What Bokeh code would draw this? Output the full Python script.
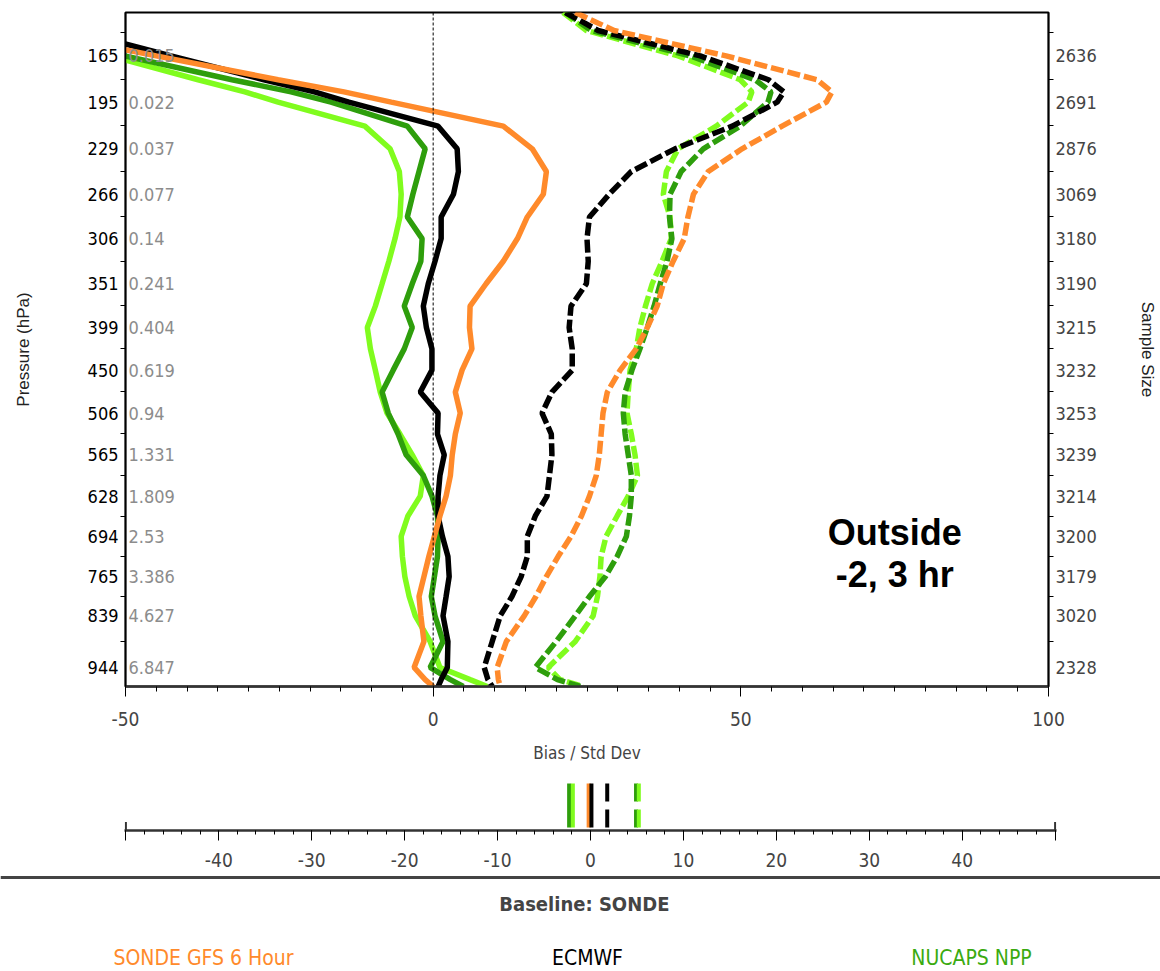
import numpy as np
from bokeh.plotting import figure
from bokeh.models import Range1d, LinearAxis, FixedTicker, Span, Label
from bokeh.layouts import column
from bokeh.embed import file_html
from bokeh.resources import INLINE
from bokeh.core.properties import value

# ---------------- data ----------------
pressure_hpa = [140, 150, 165, 180, 188, 195, 212, 229, 247, 266, 286, 306, 328, 351, 375,
                399, 424, 450, 478, 506, 535, 565, 596, 628, 660, 694, 729, 765, 802, 839,
                890, 944, 970, 985]

# bias (solid)
gfs_bias = [-81, -66, -45.0, -25.2, -14.5, -6.8, 11.4, 16.1, 18.4, 17.9, 15.3, 13.7, 11.4,
            8.6, 6.0, 5.9, 6.3, 4.7, 3.6, 4.4, 3.6, 3.1, 2.8, 2.1, 1.1, 0.2, -0.7, -1.5,
            -2.3, -2.0, -1.5, -3.1, -1.3, 0.0]
ecmwf_bias = [-69.7, -58.3, -42.6, -27.5, -19.3, -13.7, 0.8, 3.9, 4.1, 3.3, 1.3, 1.3, 0.3,
              -0.8, -1.6, -1.1, -0.2, -0.2, -2.1, 0.8, 0.7, 1.8, 1.1, 0.8, 0.8, 1.5, 2.4,
              2.6, 2.1, 1.6, 2.4, 2.3, 1.3, 0.8]
nucaps_bias = [-81.6, -68.4, -50.1, -32.7, -23.1, -16.6, -4.2, -1.3, -2.3, -3.3, -4.2, -1.8,
               -2.0, -3.4, -4.7, -3.4, -4.7, -6.5, -8.3, -7.3, -5.7, -4.4, -1.6, -0.2, 0.7,
               0.8, 0.7, 0.2, -0.3, 0.3, 1.6, -0.5, 2.8, 4.9]
nucaps2_bias = [-78.2, -67.4, -52.5, -38.2, -30.6, -25.2, -11.1, -7.0, -5.5, -5.2, -5.4, -6.2,
                -7.2, -8.3, -9.4, -10.7, -10.2, -9.4, -8.6, -7.5, -5.4, -3.4, -1.6, -2.1,
                -4.1, -5.2, -5.0, -4.6, -3.9, -2.9, -0.5, 1.1, 6.0, 8.8]

# std dev (dashed)
gfs_std = [23.1, 29.4, 47.6, 62.4, 64.8, 63.9, 56.7, 50.2, 44.7, 42.3, 41.4, 40.8, 39.0, 37.4,
           36.4, 34.8, 33.0, 30.4, 28.3, 27.6, 27.3, 27.0, 26.5, 25.4, 24.1, 22.4, 20.3, 18.4,
           16.7, 14.8, 11.9, 10.4, 10.6, 10.9]
ecmwf_std = [21.5, 26.8, 43.4, 54.5, 57.0, 55.9, 48.6, 39.3, 32.2, 28.6, 25.4, 25.0, 25.2,
             24.9, 22.4, 22.1, 22.6, 22.6, 19.3, 17.7, 19.2, 19.3, 18.9, 18.5, 16.6, 15.3,
             15.3, 14.3, 12.8, 10.9, 9.6, 8.3, 8.9, 9.6]
nucaps_std = [21.5, 25.7, 41.8, 52.3, 54.9, 54.4, 49.9, 43.9, 40.3, 38.5, 38.4, 38.8, 38.0,
              36.9, 35.9, 34.8, 33.6, 32.3, 31.2, 30.9, 31.2, 31.7, 32.2, 32.2, 31.9, 31.4,
              29.9, 28.0, 25.4, 23.1, 20.0, 16.6, 20.2, 23.9]
nucaps2_std = [21.1, 24.9, 39.8, 49.9, 51.8, 51.2, 46.0, 39.8, 37.9, 37.4, 38.5, 38.7, 37.2,
               35.6, 34.5, 33.6, 33.0, 32.0, 31.7, 31.5, 32.2, 32.8, 33.2, 31.7, 29.9, 28.1,
               27.3, 27.1, 26.7, 26.0, 23.1, 18.7, 20.6, 24.4]

# axis labels
label_pressures = [165, 195, 229, 266, 306, 351, 399, 450, 506, 565, 628, 694, 765, 839, 944]
mixing_labels = ["0.015", "0.022", "0.037", "0.077", "0.14", "0.241", "0.404", "0.619",
                 "0.94", "1.331", "1.809", "2.53", "3.386", "4.627", "6.847"]
sample_sizes = ["2636", "2691", "2876", "3069", "3180", "3190", "3215", "3232", "3253",
                "3239", "3214", "3200", "3179", "3020", "2328"]
p_top, p_bottom = 140, 985
x_ticks = [-50, 0, 50, 100]

# TPW bias / std
tpw_ticks = [-50, -40, -30, -20, -10, 0, 10, 20, 30, 40, 50]
tpw_gfs_bias, tpw_ecmwf_bias, tpw_nucaps_bias, tpw_nucaps2_bias = -0.2, 0.1, -2.3, -1.9
tpw_ecmwf_std, tpw_nucaps_std, tpw_nucaps2_std = 1.8, 4.9, 5.2
tpw_sample = "3255"

series_names = ["SONDE GFS 6 Hour", "ECMWF", "NUCAPS NPP"]

# ---------------- style ----------------
ORANGE = "#FF8A2B"
BLACK = "#000000"
DGREEN = "#2E9E0C"
LGREEN = "#80FC1E"
LEGEND_GREEN = "#3AAA10"
NARROW = "DejaVu Sans Condensed"
SANS = "Liberation Sans"
EXP = 0.286


def yv(p):
    return np.power(np.asarray(p, dtype=float), EXP)


def ascii_num(v):
    return str(v)


lab_y = [float(v) for v in yv(label_pressures)]
bounds = [(a + b) / 2 for a, b in zip(lab_y[:-1], lab_y[1:])]
bounds = [lab_y[0] - (lab_y[1] - lab_y[0]) / 2] + bounds

p = figure(width=1160, height=770, output_backend="svg", toolbar_location=None,
           x_range=Range1d(-50, 100), y_range=Range1d(float(yv(p_bottom)), float(yv(p_top))),
           min_border_left=125, min_border_right=112, min_border_top=12, min_border_bottom=84)
p.frame_align = False
p.xgrid.visible = False
p.ygrid.visible = False
p.outline_line_color = "black"
p.outline_line_width = 2
p.background_fill_color = "white"

# left axis
ya = p.yaxis[0]
ya.ticker = FixedTicker(ticks=lab_y, minor_ticks=bounds)
ya.major_label_overrides = {t: str(l) for t, l in zip(lab_y, label_pressures)}
ya.major_tick_line_color = None
ya.major_tick_out = 0
ya.major_tick_in = 0
ya.minor_tick_out = 5
ya.minor_tick_in = 0
ya.minor_tick_line_color = "black"
ya.axis_line_color = "black"
ya.axis_line_width = 1.5
ya.major_label_standoff = 2
ya.major_label_text_font = NARROW
ya.major_label_text_font_size = "18px"
ya.major_label_text_color = "black"
ya.axis_label = "Pressure (hPa)"
ya.axis_label_text_font = SANS
ya.axis_label_text_font_style = "normal"
ya.axis_label_text_font_size = "17px"
ya.axis_label_text_color = "#222222"
ya.axis_label_standoff = 52

# right axis
ra = LinearAxis(ticker=FixedTicker(ticks=lab_y, minor_ticks=bounds))
ra.major_label_overrides = {t: s for t, s in zip(lab_y, sample_sizes)}
ra.major_tick_line_color = None
ra.major_tick_out = 0
ra.major_tick_in = 0
ra.minor_tick_out = 5
ra.minor_tick_in = 0
ra.axis_line_width = 1.5
ra.major_label_standoff = 2
ra.major_label_text_font = NARROW
ra.major_label_text_font_size = "18px"
ra.axis_label = "Sample Size"
ra.axis_label_text_font = SANS
ra.axis_label_text_font_style = "normal"
ra.axis_label_text_font_size = "17px"
ra.axis_label_text_color = "#222222"
ra.axis_label_standoff = 38
p.add_layout(ra, "right")

# bottom axis
xa = p.xaxis[0]
xa.ticker = FixedTicker(ticks=x_ticks, minor_ticks=list(range(-50, 101, 5)))
xa.major_label_overrides = {v: ascii_num(v) for v in x_ticks}
xa.major_tick_out = 10
xa.major_tick_in = 0
xa.minor_tick_out = 5
xa.minor_tick_in = 0
xa.axis_line_width = 2.5
xa.axis_line_color = "#333333"
xa.major_label_standoff = 15
xa.major_label_text_font = NARROW
xa.major_label_text_font_size = "19px"
xa.axis_label = "Bias / Std Dev"
xa.axis_label_text_font = NARROW
xa.axis_label_text_font_style = "normal"
xa.axis_label_text_font_size = "17px"
xa.axis_label_standoff = 14

p.add_layout(Span(location=0, dimension="height", line_color="black", line_width=1,
                  line_dash="3 2"))

yy = yv(pressure_hpa)
for vals, col in [(nucaps2_std, LGREEN), (nucaps_std, DGREEN), (ecmwf_std, BLACK), (gfs_std, ORANGE)]:
    p.line(vals, yy, line_color=col, line_width=5.5, line_dash="13 4")
for vals, col in [(nucaps2_bias, LGREEN), (nucaps_bias, DGREEN), (ecmwf_bias, BLACK), (gfs_bias, ORANGE)]:
    p.line(vals, yy, line_color=col, line_width=5.5)

p.text(x=[-50] * len(lab_y), y=lab_y, text=mixing_labels, x_offset=3,
       text_align="left", text_baseline="middle", text_color="#8c8c8c",
       text_font=value(NARROW), text_font_size="18px")

p.add_layout(Label(x=75, y=float(yv(687)), text="Outside", text_align="center",
                   text_baseline="middle", text_font=SANS, text_font_style="bold",
                   text_font_size="36px", text_color="black"))
p.add_layout(Label(x=75, y=float(yv(762)), text="-2, 3 hr", text_align="center",
                   text_baseline="middle", text_font=SANS, text_font_style="bold",
                   text_font_size="36px", text_color="black"))

# ---------------- TPW panel ----------------
t = figure(width=1160, height=100, output_backend="svg", toolbar_location=None,
           x_range=Range1d(-50.15, 50.15), y_range=Range1d(0, 1),
           min_border_left=124, min_border_right=104, min_border_top=10, min_border_bottom=40,
           y_axis_location=None)
t.frame_align = False
t.xgrid.visible = False
t.ygrid.visible = False
t.outline_line_color = None
ta = t.xaxis[0]
ta.ticker = FixedTicker(ticks=tpw_ticks, minor_ticks=list(range(-50, 51, 2)))
ta.major_label_overrides = {v: ("" if abs(v) == 50 else ascii_num(v)) for v in tpw_ticks}
ta.major_tick_out = 10
ta.major_tick_in = 0
ta.minor_tick_out = 4
ta.minor_tick_in = 0
ta.axis_line_width = 2.5
ta.axis_line_color = "#333333"
ta.major_label_standoff = 12
ta.major_label_text_font = NARROW
ta.major_label_text_font_size = "19px"

t.segment(x0=[-50, 50], y0=[0, 0], x1=[-50, 50], y1=[0.17, 0.17], line_color="#333333",
          line_width=2)
for xv, col, dash in [(tpw_nucaps_bias, DGREEN, "solid"), (tpw_nucaps2_bias, LGREEN, "solid"),
                      (tpw_gfs_bias, ORANGE, "solid"), (tpw_ecmwf_bias, BLACK, "solid"),
                      (tpw_ecmwf_std, BLACK, "18 8"), (tpw_nucaps_std, DGREEN, "18 8"),
                      (tpw_nucaps2_std, LGREEN, "18 8")]:
    t.segment(x0=[xv], y0=[0.06], x1=[xv], y1=[0.94], line_color=col, line_width=4,
              line_dash=dash)
t.add_layout(Label(x=-50, y=0, x_offset=-6, text="TPW", text_align="right",
                   text_baseline="middle", text_font=NARROW, text_font_size="19px"))
t.add_layout(Label(x=50, y=0, x_offset=4, text=tpw_sample, text_align="left",
                   text_baseline="middle", text_font=NARROW, text_font_size="19px"))

# ---------------- legend panel ----------------
g = figure(width=1160, height=101, output_backend="svg", toolbar_location=None,
           x_range=Range1d(0, 1160), y_range=Range1d(0, 101), min_border=0,
           x_axis_location=None, y_axis_location=None)
g.frame_align = False
g.xgrid.visible = False
g.ygrid.visible = False
g.outline_line_color = None
g.add_layout(Span(location=94, dimension="width", line_color="#444444", line_width=3))
g.add_layout(Label(x=587, y=68, text="Baseline:  SONDE", text_align="center",
                   text_baseline="middle", text_font=NARROW, text_font_style="bold",
                   text_font_size="20px"))
for xc, name, col in zip([203, 587, 971], series_names, [ORANGE, BLACK, LEGEND_GREEN]):
    g.add_layout(Label(x=xc, y=14, text=name, text_align="center", text_baseline="middle",
                       text_font=NARROW, text_font_size="21px", text_color=col))

layout = column(p, t, g, spacing=0)
open("out.html", "w").write(file_html(layout, INLINE))
